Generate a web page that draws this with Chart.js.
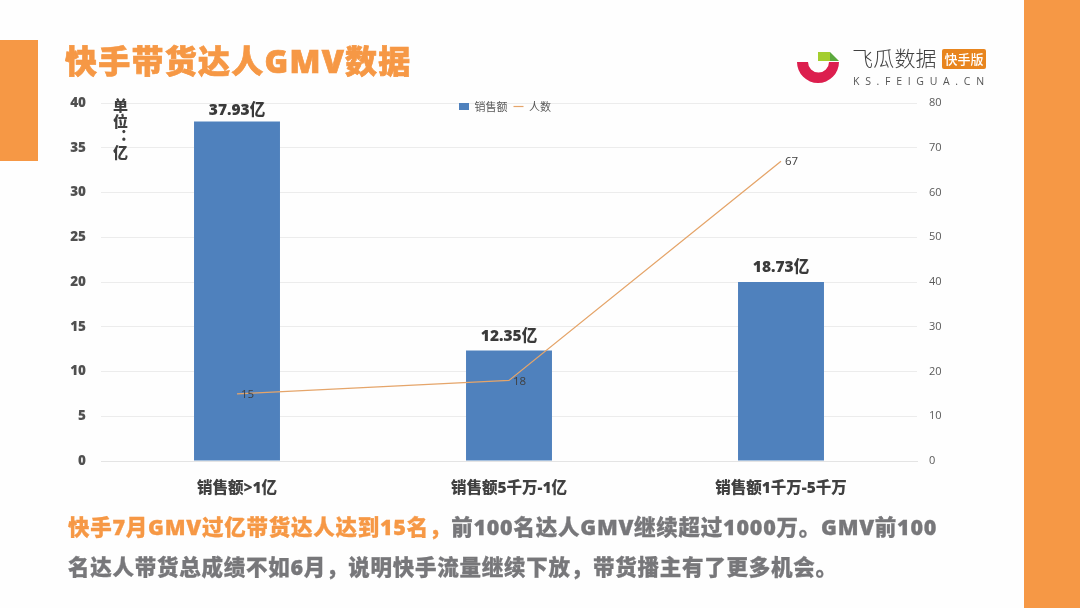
<!DOCTYPE html>
<html lang="zh"><head><meta charset="utf-8">
<script src="https://cdn.jsdelivr.net/npm/chart.js@4/dist/chart.umd.js"></script>
<style>
html,body{margin:0;padding:0;background:#fff}
#page{position:relative;width:1080px;height:608px;overflow:hidden;background:#fefefe;font-family:"Open Sans","Noto Sans CJK SC",sans-serif}
canvas{position:absolute;left:0;top:0}
.t{position:absolute;white-space:nowrap}
.blk{position:absolute;background:#F69845}
#title{left:65px;top:38px;font-size:32px;font-weight:900;color:#F69845;line-height:46px;letter-spacing:1.25px;-webkit-text-stroke:.7px #F69845}
#unit{left:110px;top:98px;writing-mode:vertical-rl;text-orientation:upright;font-family:"Noto Sans CJK SC";font-size:15px;font-weight:900;color:#404040;line-height:20px;letter-spacing:.6px}
.body{left:68px;font-size:21.5px;font-weight:900;color:#77777A;line-height:30px;letter-spacing:.75px;-webkit-text-stroke:.3px currentColor}
.o{color:#F69845}
#brand{left:852px;top:41px;font-family:"Noto Sans CJK SC";font-size:21px;font-weight:300;color:#404040;line-height:32px;letter-spacing:.2px}
#badge{left:942px;top:49px;width:44px;height:20px;background:#E8851E;border-radius:2px;color:#fff;font-family:"Noto Sans CJK SC";font-size:13px;font-weight:500;line-height:20px;text-align:center}
#url{left:853px;top:73px;font:400 10.5px/16px "Open Sans",sans-serif;color:#555;letter-spacing:5.7px}
</style></head>
<body><div id="page">
<canvas id="c" width="1080" height="608"></canvas>
<div class="blk" style="left:0;top:40px;width:38px;height:121px"></div>
<div class="blk" style="left:1024px;top:0;width:56px;height:608px"></div>
<div class="t" id="title">快手带货达人GMV数据</div>
<div class="t" id="unit">单位：亿</div>
<div class="t body" style="top:512px"><span class="o">快手7月GMV过亿带货达人达到15名，</span>前100名达人GMV继续超过1000万。GMV前100</div>
<div class="t body" style="top:552px">名达人带货总成绩不如6月，说明快手流量继续下放，带货播主有了更多机会。</div>
<svg class="t" style="left:790px;top:45px" width="56" height="45" viewBox="790 45 56 45">
<path d="M797 62H808A10.5 10.5 0 0 0 829 62H839A21 21 0 0 1 797 62Z" fill="#DC1F4E"/>
<path d="M818 52H830V61H818Z" fill="#A4CE2E"/>
<path d="M830 52L839 61H830Z" fill="#5BA83C"/>
</svg>
<div class="t" id="brand">飞瓜数据</div>
<div class="t" id="badge">快手版</div>
<div class="t" id="url">KS.FEIGUA.CN</div>
</div>
<script>
const categories = ['销售额>1亿', '销售额5千万-1亿', '销售额1千万-5千万'];
const salesValues = [37.93, 12.35, 20];
const salesLabels = ['37.93亿', '12.35亿', '18.73亿'];
const peopleValues = [15, 18, 67];
const seriesNames = ['销售额', '人数'];
const BLUE = '#4F81BD', LINE = '#E5A56A';
const FONT = '"Open Sans","Noto Sans CJK SC",sans-serif';

const labelPlugin = {
  id: 'valueLabels',
  afterLayout(chart) {
    const l = chart.legend;
    l.top = 95; l.bottom = 125;
  },
  afterDatasetsDraw(chart) {
    const ctx = chart.ctx;
    ctx.save();
    ctx.textBaseline = 'middle';
    ctx.textAlign = 'center';
    ctx.font = '800 15.5px ' + FONT;
    ctx.fillStyle = '#3A3A3A';
    chart.getDatasetMeta(0).data.forEach((b, i) => ctx.fillText(salesLabels[i], b.x, Math.max(111, b.y - 14)));
    ctx.textAlign = 'left';
    ctx.font = '400 11.5px ' + FONT;
    ctx.fillStyle = '#404040';
    chart.getDatasetMeta(1).data.forEach((p, i) => ctx.fillText(String(peopleValues[i]), p.x + 4, p.y + 1));
    ctx.restore();
  }
};

new Chart(document.getElementById('c'), {
  type: 'bar',
  data: {
    labels: categories,
    datasets: [
      { type: 'bar', label: seriesNames[0], data: salesValues, yAxisID: 'yL', backgroundColor: BLUE, categoryPercentage: 1, barPercentage: 0.316, order: 2 },
      { type: 'line', label: seriesNames[1], data: peopleValues, yAxisID: 'yR', borderColor: LINE, backgroundColor: LINE, borderWidth: 1.3, pointRadius: 0, tension: 0, order: 1 }
    ]
  },
  options: {
    responsive: false,
    animation: false,
    devicePixelRatio: 1,
    layout: { padding: { left: 60, right: 130, top: 103, bottom: 107 } },
    plugins: {
      tooltip: { enabled: false },
      legend: {
        position: 'top',
        maxHeight: 0.01,
        labels: {
          usePointStyle: true,
          pointStyleWidth: 10,
          boxHeight: 7,
          padding: 6,
          color: '#595959',
          font: { size: 11, family: '"Noto Sans CJK SC",sans-serif' },
          generateLabels: () => [
            { text: seriesNames[0], fillStyle: BLUE, strokeStyle: BLUE, lineWidth: 0, pointStyle: 'rect', datasetIndex: 0, fontColor: '#595959' },
            { text: seriesNames[1], fillStyle: LINE, strokeStyle: LINE, lineWidth: 1.2, pointStyle: 'line', datasetIndex: 1, fontColor: '#595959' }
          ]
        }
      }
    },
    scales: {
      x: {
        grid: { display: false },
        border: { color: '#E4E4E4' },
        ticks: { color: '#404040', padding: 10, maxRotation: 0, autoSkip: false, font: { size: 15.5, weight: '900', family: FONT } },
        afterFit: s => { s.height = 40; }
      },
      yL: {
        position: 'left', min: 0, max: 40,
        border: { display: false },
        grid: { color: '#ECECEC', lineWidth: 1, tickLength: 0 },
        ticks: { stepSize: 5, color: '#505050', padding: 15, font: { size: 13.5, weight: '800', family: FONT } },
        afterFit: s => { s.width = 41; }
      },
      yR: {
        position: 'right', min: 0, max: 80,
        border: { display: false },
        grid: { display: false, tickLength: 0 },
        ticks: { stepSize: 10, color: '#595959', padding: 12, font: { size: 11, family: FONT } },
        afterFit: s => { s.width = 33; }
      }
    }
  },
  plugins: [labelPlugin]
});
</script>
</body></html>
